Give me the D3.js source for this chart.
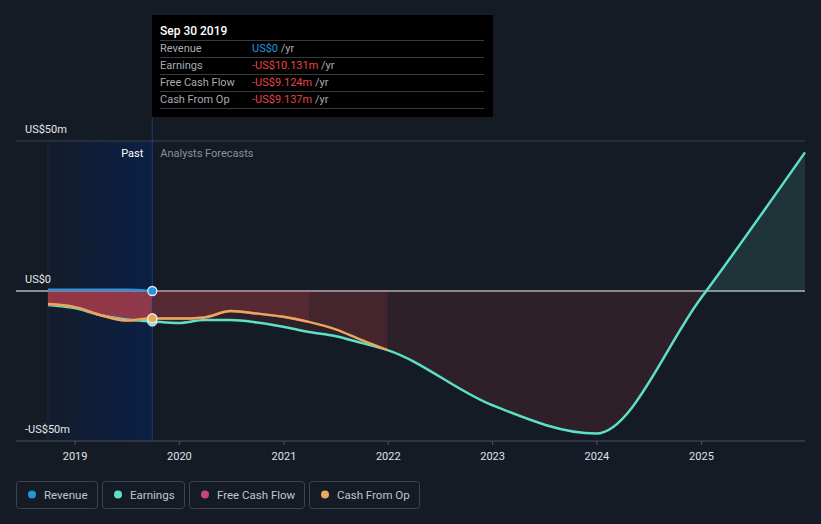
<!DOCTYPE html>
<html><head><meta charset="utf-8">
<script src="https://cdn.jsdelivr.net/npm/d3@7"></script>
<style>
html,body{margin:0;padding:0;background:#151b24;}
svg{display:block;font-family:Roboto,"Noto Sans",sans-serif;}
</style></head>
<body>
<svg id="chart" width="821" height="524"></svg>
<script>
// ---------- data ----------
const earningsDates = ["2018-09-30","2018-12-31","2019-03-31","2019-06-30","2019-09-30","2019-12-31","2020-03-31","2020-06-30","2020-09-30","2020-12-31","2021-03-31","2021-06-30","2021-09-30","2021-12-31","2022-12-31","2023-12-31","2024-12-31","2025-12-31"];
const earningsValues = [-4.7,-5.7,-8.0,-9.5,-10.131,-10.7,-9.7,-9.7,-10.5,-11.9,-13.7,-15.0,-17.3,-19.7,-38,-47.5,-2.5,46.2];
const cfoDates = ["2018-09-30","2018-12-31","2019-03-31","2019-06-30","2019-09-30","2019-12-31","2020-03-31","2020-06-30","2020-09-30","2020-12-31","2021-03-31","2021-06-30","2021-09-30","2021-12-31"];
const cfoValues = [-4.3,-5.3,-8.0,-9.8,-9.137,-9.2,-8.8,-6.7,-7.5,-8.6,-10.3,-12.7,-16.3,-19.7];
const fcfDates = ["2018-09-30","2018-12-31","2019-03-31","2019-06-30","2019-09-30","2019-12-31","2020-03-31","2020-06-30","2020-09-30","2020-12-31","2021-03-31"];
const fcfValues = [-4.3,-5.3,-8.0,-9.8,-9.124,-9.2,-8.8,-6.7,-7.5,-8.6,-10.3];
const revenueDates = ["2018-09-30","2018-12-31","2019-03-31","2019-06-30","2019-09-30"];
const revenueValues = [0.4,0.4,0.4,0.4,0];
const yTicks = [50,0,-50];
const yTickLabels = ["US$50m","US$0","-US$50m"];
const xTickYears = [2019,2020,2021,2022,2023,2024,2025];
const pastEnd = "2019-09-30";
const tooltipTitle = "Sep 30 2019";
const tooltipRows = [
  {label:"Revenue", value:"US$0", color:"#2394df"},
  {label:"Earnings", value:"-US$10.131m", color:"#e64545"},
  {label:"Free Cash Flow", value:"-US$9.124m", color:"#e64545"},
  {label:"Cash From Op", value:"-US$9.137m", color:"#e64545"}
];
const legendNames = ["Revenue","Earnings","Free Cash Flow","Cash From Op"];
const legendColors = ["#2394df","#5ce0c8","#c4457f","#e8a95a"];

// ---------- setup ----------
const parse = d3.timeParse("%Y-%m-%d");
const svg = d3.select("#chart");
const W = 821, H = 524;
svg.append("rect").attr("width",W).attr("height",H).attr("fill","#151b24");

const x = d3.scaleTime().domain([parse("2018-09-30"), parse("2025-12-31")]).range([48, 805]);
const y = d3.scaleLinear().domain([-50, 50]).range([441, 141]);
const zip = (ds, vs) => ds.map((d,i)=>({date:parse(d), v:vs[i]}));
const earnings = zip(earningsDates, earningsValues);
const cfo = zip(cfoDates, cfoValues);
const fcf = zip(fcfDates, fcfValues);
const revenue = zip(revenueDates, revenueValues);
const xPast = x(parse(pastEnd));
const x0 = x.range()[0], x1 = x.range()[1];

const defs = svg.append("defs");
const g1 = defs.append("linearGradient").attr("id","pastGrad").attr("x1","0").attr("x2","1").attr("y1","0").attr("y2","0");
g1.append("stop").attr("offset","0").attr("stop-color","#131c2b");
g1.append("stop").attr("offset","1").attr("stop-color","#0b2045");

function clip(id, xa, xb, ya, yb){
  defs.append("clipPath").attr("id",id).append("rect")
    .attr("x",xa).attr("y",ya).attr("width",xb-xa).attr("height",yb-ya);
}
clip("pastNeg", x0, xPast, y(0), y(-50));
clip("futNeg", xPast, x1+2, y(0), y(-50));
clip("pastPos", x0, xPast, y(50), y(0));
clip("futPos", xPast, x1+2, y(50), y(0));

// past background
svg.append("rect").attr("x",x0).attr("y",y(50)).attr("width",xPast-x0).attr("height",y(-50)-y(50)).attr("fill","url(#pastGrad)");
svg.append("line").attr("x1",x0).attr("x2",x0).attr("y1",y(50)).attr("y2",y(-50)).attr("stroke","#1a2a45").attr("stroke-width",1);

// grid / axes
svg.append("line").attr("x1",16).attr("x2",x1).attr("y1",y(50)).attr("y2",y(50)).attr("stroke","#3b404b").attr("stroke-width",1);
svg.append("line").attr("x1",16).attr("x2",x1).attr("y1",y(0)).attr("y2",y(0)).attr("stroke","#ffffff").attr("stroke-width",1);

const xAxis = d3.axisBottom(x)
  .tickValues(xTickYears.map(yr=>new Date(yr,0,1)))
  .tickFormat(d3.timeFormat("%Y")).tickSize(4).tickSizeOuter(0);
const ax = svg.append("g").attr("transform",`translate(0,${y(-50)})`).call(xAxis);
ax.select(".domain").remove();
ax.selectAll(".tick line").attr("stroke","#4b515c");
ax.selectAll(".tick text").attr("fill","#e0e2e6").attr("font-size",11).attr("dy","1.1em").attr("font-family","Roboto");
svg.append("line").attr("x1",16).attr("x2",x1).attr("y1",y(-50)).attr("y2",y(-50)).attr("stroke","#4b515c").attr("stroke-width",1);

// y labels
svg.selectAll(".ylab").data(yTicks).enter().append("text")
  .attr("x",25).attr("y",d=>y(d)-8).attr("fill","#e6e7ea").attr("font-size",11)
  .text((d,i)=>yTickLabels[i]);

// areas
const curve = d3.curveMonotoneX;
const area = d3.area().curve(curve).x(d=>x(d.date)).y0(y(0)).y1(d=>y(d.v));
const line = d3.line().curve(curve).x(d=>x(d.date)).y(d=>y(d.v));
const red = "#e64a52", teal = "#5ce0c8";
[earnings, fcf, cfo].forEach(s=>{
  svg.append("path").attr("d",area(s)).attr("fill",red).attr("fill-opacity",0.27).attr("clip-path","url(#pastNeg)");
  svg.append("path").attr("d",area(s)).attr("fill",red).attr("fill-opacity",0.12).attr("clip-path","url(#futNeg)");
});
svg.append("path").attr("d",area(earnings)).attr("fill",teal).attr("fill-opacity",0.13).attr("clip-path","url(#futPos)");
svg.append("path").attr("d",area(revenue)).attr("fill","#2394df").attr("fill-opacity",0.3).attr("clip-path","url(#pastPos)");

// past divider
svg.append("line").attr("x1",xPast).attr("x2",xPast).attr("y1",117).attr("y2",y(-50)).attr("stroke","#1f3d6b").attr("stroke-width",1);

// lines
svg.append("path").attr("d",line(earnings)).attr("fill","none").attr("stroke",legendColors[1]).attr("stroke-width",2.5);
svg.append("path").attr("d",line(fcf)).attr("fill","none").attr("stroke",legendColors[2]).attr("stroke-width",2.5);
svg.append("path").attr("d",line(cfo)).attr("fill","none").attr("stroke",legendColors[3]).attr("stroke-width",2.5);
svg.append("path").attr("d",line(revenue)).attr("fill","none").attr("stroke",legendColors[0]).attr("stroke-width",2.5);

// markers at past end
const pe = parse(pastEnd);
const markers = [
  {v: earningsValues[earningsDates.indexOf(pastEnd)], c: legendColors[1]},
  {v: fcfValues[fcfDates.indexOf(pastEnd)], c: legendColors[2]},
  {v: cfoValues[cfoDates.indexOf(pastEnd)], c: legendColors[3]},
  {v: revenueValues[revenueDates.indexOf(pastEnd)], c: legendColors[0]}
];
svg.selectAll(".mk").data(markers).enter().append("circle")
  .attr("cx",x(pe)).attr("cy",d=>y(d.v)).attr("r",4.5)
  .attr("fill",d=>d.c).attr("stroke","#e8ecf0").attr("stroke-width",1.3);

// Past / forecast labels
svg.append("text").attr("x",xPast-9).attr("y",157).attr("text-anchor","end").attr("fill","#ffffff").attr("font-size",11).text("Past");
svg.append("text").attr("x",xPast+8).attr("y",157).attr("fill","#8b9099").attr("font-size",11).text("Analysts Forecasts");

// tooltip
const tt = svg.append("g");
tt.append("rect").attr("x",152).attr("y",15).attr("width",341).attr("height",102).attr("fill","#000");
tt.append("text").attr("x",160).attr("y",35).attr("fill","#ffffff").attr("font-size",12).attr("font-weight",500).text(tooltipTitle);
[40.5,57.5,74.5,91.5,108.5].forEach(yy=>{
  tt.append("line").attr("x1",160).attr("x2",484).attr("y1",yy).attr("y2",yy).attr("stroke","#3a3b3e").attr("stroke-width",1);
});
tooltipRows.forEach((r,i)=>{
  const by = 52 + i*17;
  tt.append("text").attr("x",160).attr("y",by).attr("fill","#a9abb0").attr("font-size",11).text(r.label);
  const t = tt.append("text").attr("x",252).attr("y",by).attr("font-size",11);
  t.append("tspan").attr("fill",r.color).text(r.value);
  t.append("tspan").attr("fill","#a9abb0").text(" /yr");
});

// legend
const lg = svg.append("g");
const boxW = [81,82,115,110];
let lx = 16;
const gap = 5;
legendNames.forEach((n,i)=>{
  const g = lg.append("g");
  const bw = boxW[i];
  g.append("rect").attr("x",lx+0.5).attr("y",481.5).attr("width",bw).attr("height",27).attr("rx",3)
    .attr("fill","none").attr("stroke","#3e434d").attr("stroke-width",1);
  g.append("circle").attr("cx",lx+16).attr("cy",494.5).attr("r",4).attr("fill",legendColors[i]);
  g.append("text").attr("x",lx+28).attr("y",498.5).attr("fill","#c2c5cb").attr("font-size",11.5).text(n);
  lx += bw + gap;
});
</script>
</body></html>
